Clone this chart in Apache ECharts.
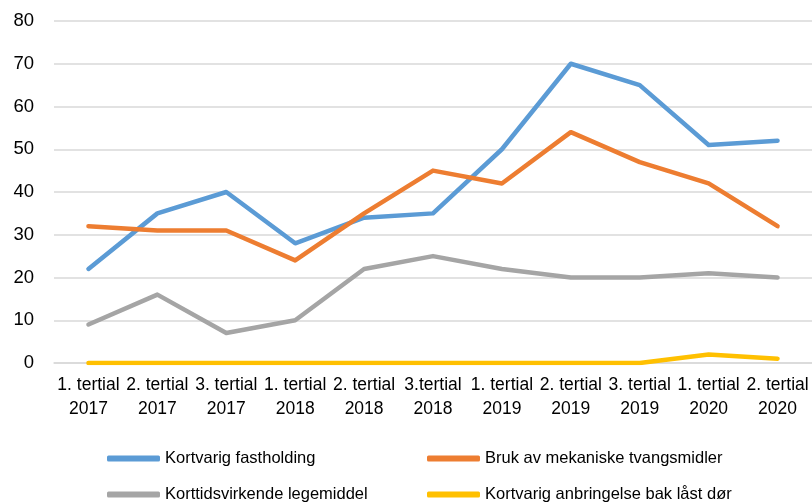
<!DOCTYPE html>
<html><head><meta charset="utf-8">
<script src="https://cdn.jsdelivr.net/npm/echarts@6/dist/echarts.min.js"></script>
<style>html,body{margin:0;padding:0;background:#fff}#c{width:812px;height:504px}</style>
</head><body><div id="c"></div>
<script>
const categories = ["1. tertial\n2017","2. tertial\n2017","3. tertial\n2017","1. tertial\n2018","2. tertial\n2018","3.tertial\n2018","1. tertial\n2019","2. tertial\n2019","3. tertial\n2019","1. tertial\n2020","2. tertial\n2020"];
const seriesNames = ["Kortvarig fastholding","Bruk av mekaniske tvangsmidler","Korttidsvirkende legemiddel","Kortvarig anbringelse bak låst dør"];
const fastholding = [22,35,40,28,34,35,50,70,65,51,52];
const mekaniske = [32,31,31,24,35,45,42,54,47,42,32];
const legemiddel = [9,16,7,10,22,25,22,20,20,21,20];
const laastDor = [0,0,0,0,0,0,0,0,0,2,1];
const yTicks = {min:0,max:80,interval:10};
const colors = ["#5B9BD5","#ED7D31","#A5A5A5","#FFC000"];

const values = [fastholding, mekaniske, legemiddel, laastDor];
const font = "Liberation Sans";
const legendPos = [[107,450],[427,450],[107,486],[427,486]];
const chart = echarts.init(document.getElementById('c'));
chart.setOption({
  animation:false,
  color: colors,
  grid:{left:54,top:21,width:759,height:342,containLabel:false},
  xAxis:{type:'category',data:categories,boundaryGap:true,
    axisLine:{show:true,lineStyle:{color:'#d9d9d9',width:1.5}},
    axisTick:{show:false},
    axisLabel:{interval:0,color:'#000',fontFamily:font,fontSize:17.5,lineHeight:24,margin:10}},
  yAxis:{type:'value',min:yTicks.min,max:yTicks.max,interval:yTicks.interval,
    axisLine:{show:false},axisTick:{show:false},
    splitLine:{lineStyle:{color:'#d9d9d9',width:1.5}},
    axisLabel:{color:'#000',fontFamily:font,fontSize:18.5,margin:20}},
  legend: seriesNames.map((n,i)=>({data:[n],left:legendPos[i][0],top:legendPos[i][1],padding:0,
    icon:'roundRect',itemWidth:53,itemHeight:6,itemGap:6,
    textStyle:{fontFamily:font,fontSize:16.5,color:'#000'}})),
  series: seriesNames.map((n,i)=>({name:n,type:'line',data:values[i],symbol:'none',
    lineStyle:{width:4.5,cap:'round',join:'round',color:colors[i]}}))
});
</script></body></html>
